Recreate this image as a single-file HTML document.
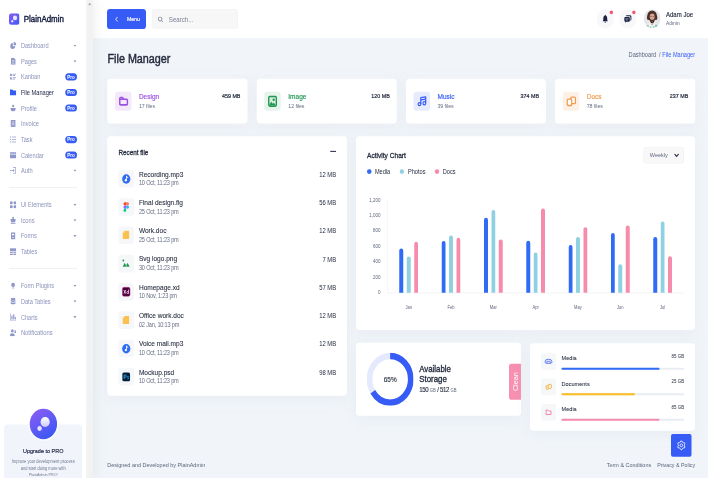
<!DOCTYPE html>
<html><head><meta charset="utf-8"><title>File Manager | PlainAdmin</title>
<style>
html,body{margin:0;padding:0;width:708px;height:478px;overflow:hidden;background:#f1f5f9;}
body{font-family:"Liberation Sans",sans-serif;}
#o{position:absolute;left:0;top:0;width:2832px;height:1912px;transform:scale(.25,0.28250);transform-origin:0 0;overflow:hidden;filter:brightness(1);}
#w{position:absolute;left:0;top:0;width:708px;height:423.51px;zoom:4;overflow:hidden;background:#f1f5f9;}
#w div,#w svg{position:absolute;display:block;}
#w .t{white-space:nowrap;}
#w .t span{position:static;}
</style></head><body>
<div id="o"><div id="w">
<div style="left:93px;top:0px;width:615px;height:33.72px;background:#fff;"></div>
<div style="left:0px;top:0px;width:93px;height:423.01px;background:#fff;box-shadow:0 0 11px rgba(200,208,216,.45);"></div>
<div style="left:86.3px;top:0px;width:6.7px;height:423.01px;background:#f2f2f3;"></div>
<svg style="left:88px;top:2.48px;" width="3.4" height="2.3" viewBox="0 0 10 10" preserveAspectRatio="none"><path d="M0 10 L5 0 L10 10Z" fill="#a3a3a8"/></svg>
<svg style="left:9px;top:11.68px;" width="10.5" height="10.35" viewBox="0 0 20 20" preserveAspectRatio="none"><defs><linearGradient id="lg" x1="0" y1="0" x2="1" y2="1"><stop offset="0" stop-color="#8a5cf6"/><stop offset="1" stop-color="#3d5af5"/></linearGradient></defs><rect width="20" height="20" rx="5" fill="url(#lg)"/><circle cx="11.5" cy="8" r="4" fill="#e9e6ff"/><circle cx="6.3" cy="13.5" r="2" fill="#e9e6ff"/></svg>
<div class="t" style="top:12.31px;font-size:7.95px;line-height:9.54px;color:#1a2142;-webkit-text-stroke:0.38px #1a2142;left:23.7px;">PlainAdmin</div>
<svg style="left:10px;top:37.17px;" width="6.2" height="6.37" viewBox="0 0 12 12" preserveAspectRatio="none"><g fill="#8e96ca"><path d="M5.5 1.5 A5 5 0 1 0 10.5 7 L5.5 7Z"/><path d="M7 0 A5 5 0 0 1 12 5.2 L7 5.2Z"/></g></svg>
<div class="t" style="top:37.41px;font-size:5.65px;line-height:6.78px;color:#8c93ba;left:20.9px;">Dashboard</div>
<svg style="left:73.2px;top:39.47px;" width="3.4" height="1.95" viewBox="0 0 10 6" preserveAspectRatio="none"><path d="M0 0 H10 L5 6Z" fill="#949bc0"/></svg>
<svg style="left:10px;top:50.88px;" width="6.2" height="6.37" viewBox="0 0 12 12" preserveAspectRatio="none"><g fill="#8e96ca"><path d="M2 0 H7.5 L10.5 3 V12 H2Z"/><path d="M4 5H8.5M4 7.2H8.5M4 9.4H8.5" stroke="#fff" stroke-width=".9"/></g></svg>
<div class="t" style="top:51.12px;font-size:5.65px;line-height:6.78px;color:#8c93ba;left:20.9px;">Pages</div>
<svg style="left:73.2px;top:53.19px;" width="3.4" height="1.95" viewBox="0 0 10 6" preserveAspectRatio="none"><path d="M0 0 H10 L5 6Z" fill="#949bc0"/></svg>
<svg style="left:10px;top:64.78px;" width="6.2" height="6.37" viewBox="0 0 12 12" preserveAspectRatio="none"><g fill="#8e96ca"><rect x="0" y="1" width="3.6" height="3.6"/><rect x="0" y="7" width="3.6" height="3.6"/><rect x="5.2" y="1" width="6.8" height="1.3"/><rect x="5.2" y="3.3" width="4.5" height="1.3"/><rect x="5.2" y="7" width="6.8" height="1.3"/><rect x="5.2" y="9.3" width="4.5" height="1.3"/></g></svg>
<div class="t" style="top:65.02px;font-size:5.65px;line-height:6.78px;color:#8c93ba;left:20.9px;">Kanban</div>
<div style="left:65.2px;top:64.87px;width:11.7px;height:6.37px;background:#365cf5;border-radius:4px;"></div>
<div class="t" style="top:65.4px;font-size:4.5px;line-height:5.4px;color:#fff;font-weight:700;left:-28.95px;width:200px;text-align:center;">Pro</div>
<svg style="left:10px;top:78.58px;" width="6.2" height="6.37" viewBox="0 0 12 12" preserveAspectRatio="none"><g fill="#365cf5"><path d="M0 1.5 H4.5 L6 3 H12 V11 H0Z"/></g></svg>
<div class="t" style="top:78.82px;font-size:5.65px;line-height:6.78px;color:#1a2142;left:20.9px;">File Manager</div>
<div style="left:65.2px;top:78.67px;width:11.7px;height:6.37px;background:#365cf5;border-radius:4px;"></div>
<div class="t" style="top:79.2px;font-size:4.5px;line-height:5.4px;color:#fff;font-weight:700;left:-28.95px;width:200px;text-align:center;">Pro</div>
<svg style="left:10px;top:92.39px;" width="6.2" height="6.37" viewBox="0 0 12 12" preserveAspectRatio="none"><g fill="#8e96ca"><circle cx="6" cy="2.4" r="2"/><path d="M1 5.8 H11 Q11 11.8 6 11.8 Q1 11.8 1 5.800Z"/></g></svg>
<div class="t" style="top:92.63px;font-size:5.65px;line-height:6.78px;color:#8c93ba;left:20.9px;">Profile</div>
<div style="left:65.2px;top:92.48px;width:11.7px;height:6.37px;background:#365cf5;border-radius:4px;"></div>
<div class="t" style="top:93.01px;font-size:4.5px;line-height:5.4px;color:#fff;font-weight:700;left:-28.95px;width:200px;text-align:center;">Pro</div>
<svg style="left:10px;top:106.19px;" width="6.2" height="6.37" viewBox="0 0 12 12" preserveAspectRatio="none"><g fill="#8e96ca"><path d="M1.5 0 H10.5 V12 L9 11 L7.5 12 L6 11 L4.5 12 L3 11 L1.5 12Z"/><path d="M3.5 3H8.5M3.5 5.5H8.5M3.5 8H8.5" stroke="#fff" stroke-width="1"/></g></svg>
<div class="t" style="top:106.4px;font-size:5.71px;line-height:6.85px;color:#8c93ba;left:20.9px;">Invoice</div>
<svg style="left:10px;top:120.18px;" width="6.2" height="6.37" viewBox="0 0 12 12" preserveAspectRatio="none"><g fill="#8e96ca"><rect x="0" y="1" width="1.8" height="1.8"/><rect x="0" y="5.1" width="1.8" height="1.8"/><rect x="0" y="9.2" width="1.8" height="1.8"/><rect x="3.6" y="1.3" width="8.4" height="1.2"/><rect x="3.6" y="5.4" width="8.4" height="1.2"/><rect x="3.6" y="9.5" width="8.4" height="1.2"/></g></svg>
<div class="t" style="top:120.42px;font-size:5.65px;line-height:6.78px;color:#8c93ba;left:20.9px;">Task</div>
<div style="left:65.2px;top:120.27px;width:11.7px;height:6.37px;background:#365cf5;border-radius:4px;"></div>
<div class="t" style="top:120.8px;font-size:4.5px;line-height:5.4px;color:#fff;font-weight:700;left:-28.95px;width:200px;text-align:center;">Pro</div>
<svg style="left:10px;top:133.89px;" width="6.2" height="6.37" viewBox="0 0 12 12" preserveAspectRatio="none"><g fill="#8e96ca"><path d="M0 1.5 H12 V4 H0Z"/><path d="M0 5 H12 V12 H0Z"/></g></svg>
<div class="t" style="top:134.13px;font-size:5.65px;line-height:6.78px;color:#8c93ba;left:20.9px;">Calendar</div>
<div style="left:65.2px;top:133.98px;width:11.7px;height:6.37px;background:#365cf5;border-radius:4px;"></div>
<div class="t" style="top:134.51px;font-size:4.5px;line-height:5.4px;color:#fff;font-weight:700;left:-28.95px;width:200px;text-align:center;">Pro</div>
<svg style="left:10px;top:147.79px;" width="6.2" height="6.37" viewBox="0 0 12 12" preserveAspectRatio="none"><g fill="#8e96ca"><path d="M6 0.5 H11.5 V11.5 H6 V10.3 H10.3 V1.7 H6Z"/><path d="M0 5.4 H6 V3.6 L9 6 L6 8.4 V6.6 H0Z"/></g></svg>
<div class="t" style="top:148px;font-size:5.69px;line-height:6.82px;color:#8c93ba;left:20.9px;">Auth</div>
<svg style="left:73.2px;top:150.09px;" width="3.4" height="1.95" viewBox="0 0 10 6" preserveAspectRatio="none"><path d="M0 0 H10 L5 6Z" fill="#949bc0"/></svg>
<svg style="left:10px;top:178.05px;" width="6.2" height="6.37" viewBox="0 0 12 12" preserveAspectRatio="none"><g fill="#8e96ca"><rect x="0" y="0" width="5" height="5" rx="1.2"/><rect x="7" y="0" width="5" height="5" rx="1.2"/><rect x="0" y="7" width="5" height="5" rx="1.2"/><rect x="7" y="7" width="5" height="5" rx="1.2"/></g></svg>
<div class="t" style="top:178.29px;font-size:5.65px;line-height:6.78px;color:#8c93ba;left:20.9px;">UI Elements</div>
<svg style="left:73.2px;top:180.35px;" width="3.4" height="1.95" viewBox="0 0 10 6" preserveAspectRatio="none"><path d="M0 0 H10 L5 6Z" fill="#949bc0"/></svg>
<svg style="left:10px;top:191.77px;" width="6.2" height="6.37" viewBox="0 0 12 12" preserveAspectRatio="none"><g fill="#8e96ca"><path d="M1 4 H11 L10 9.5 H2Z"/><circle cx="6" cy="2" r="1.8"/><rect x="1.5" y="10.3" width="9" height="1.5"/></g></svg>
<div class="t" style="top:191.96px;font-size:5.73px;line-height:6.88px;color:#8c93ba;left:20.9px;">Icons</div>
<svg style="left:73.2px;top:194.07px;" width="3.4" height="1.95" viewBox="0 0 10 6" preserveAspectRatio="none"><path d="M0 0 H10 L5 6Z" fill="#949bc0"/></svg>
<svg style="left:10px;top:205.58px;" width="6.2" height="6.37" viewBox="0 0 12 12" preserveAspectRatio="none"><g fill="#8e96ca"><path d="M2 0 H10 V12 H2Z"/><path d="M4 2.5 H8 V6 L6 4.8 L4 6Z" fill="#fff"/><path d="M4 8.8H8" stroke="#fff" stroke-width="1"/></g></svg>
<div class="t" style="top:205.81px;font-size:5.65px;line-height:6.78px;color:#8c93ba;left:20.9px;">Forms</div>
<svg style="left:73.2px;top:207.88px;" width="3.4" height="1.95" viewBox="0 0 10 6" preserveAspectRatio="none"><path d="M0 0 H10 L5 6Z" fill="#949bc0"/></svg>
<svg style="left:10px;top:219.38px;" width="6.2" height="6.37" viewBox="0 0 12 12" preserveAspectRatio="none"><g fill="#8e96ca"><rect x="0" y="0.5" width="12" height="5"/><rect x="0" y="6.8" width="5.4" height="2"/><rect x="6.6" y="6.8" width="5.4" height="2"/><rect x="0" y="9.8" width="5.4" height="2"/><rect x="6.6" y="9.8" width="5.4" height="2"/></g></svg>
<div class="t" style="top:219.62px;font-size:5.65px;line-height:6.78px;color:#8c93ba;left:20.9px;">Tables</div>
<svg style="left:10px;top:249.73px;" width="6.2" height="6.37" viewBox="0 0 12 12" preserveAspectRatio="none"><g fill="#8e96ca"><circle cx="6" cy="4.5" r="3.6"/><rect x="5.3" y="7" width="1.4" height="5"/></g></svg>
<div class="t" style="top:249.97px;font-size:5.65px;line-height:6.78px;color:#8c93ba;left:20.9px;">Form Plugins</div>
<svg style="left:73.2px;top:252.04px;" width="3.4" height="1.95" viewBox="0 0 10 6" preserveAspectRatio="none"><path d="M0 0 H10 L5 6Z" fill="#949bc0"/></svg>
<svg style="left:10px;top:263.45px;" width="6.2" height="6.37" viewBox="0 0 12 12" preserveAspectRatio="none"><g fill="#8e96ca"><ellipse cx="6" cy="2" rx="4.5" ry="2"/><path d="M1.5 3.4 Q6 6 10.5 3.4 V6 Q6 8.6 1.5 6Z"/><path d="M1.5 7.2 Q6 9.8 10.5 7.2 V10 Q6 12.6 1.5 10Z"/></g></svg>
<div class="t" style="top:263.69px;font-size:5.65px;line-height:6.78px;color:#8c93ba;left:20.9px;">Data Tables</div>
<svg style="left:73.2px;top:265.75px;" width="3.4" height="1.95" viewBox="0 0 10 6" preserveAspectRatio="none"><path d="M0 0 H10 L5 6Z" fill="#949bc0"/></svg>
<svg style="left:10px;top:277.35px;" width="6.2" height="6.37" viewBox="0 0 12 12" preserveAspectRatio="none"><g fill="#8e96ca"><rect x="0" y="0" width="1.1" height="12"/><rect x="0" y="10.9" width="12" height="1.1"/><rect x="2.8" y="4" width="2.2" height="6"/><rect x="6.2" y="1.5" width="2.2" height="8.5"/><rect x="9.4" y="6" width="2" height="4"/></g></svg>
<div class="t" style="top:277.58px;font-size:5.65px;line-height:6.78px;color:#8c93ba;left:20.9px;">Charts</div>
<svg style="left:73.2px;top:279.65px;" width="3.4" height="1.95" viewBox="0 0 10 6" preserveAspectRatio="none"><path d="M0 0 H10 L5 6Z" fill="#949bc0"/></svg>
<svg style="left:10px;top:291.15px;" width="6.2" height="6.37" viewBox="0 0 12 12" preserveAspectRatio="none"><g fill="#8e96ca"><circle cx="4.5" cy="3" r="2.6"/><path d="M0 12 V9.5 Q0 6.8 4.5 6.8 Q9 6.8 9 9.5 V12Z"/><path d="M9 1 Q11.8 1.5 11.5 5 L12 6.5 H8.5Z"/></g></svg>
<div class="t" style="top:291.28px;font-size:5.84px;line-height:7.01px;color:#8c93ba;left:20.9px;">Notifications</div>
<div style="left:9.2px;top:165.66px;width:67.7px;height:0.53px;background:#e4e6ec;"></div>
<div style="left:9.2px;top:237.26px;width:67.7px;height:0.53px;background:#e4e6ec;"></div>
<div style="left:4px;top:375.75px;width:78px;height:53.1px;background:#f1f5fb;border-radius:3.5px;"></div>
<svg style="left:29.4px;top:361.42px;overflow:visible;" width="27.8" height="27.35" viewBox="0 0 40 40" preserveAspectRatio="none"><defs><linearGradient id="pg" x1="0.2" y1="0" x2="0.8" y2="1"><stop offset="0" stop-color="#8b5cf6"/><stop offset="1" stop-color="#3558f4"/></linearGradient><linearGradient id="pw" x1="0" y1="0" x2="0" y2="1"><stop offset="0" stop-color="#fff"/><stop offset="1" stop-color="#c9c8ff"/></linearGradient></defs><circle cx="20" cy="20" r="21.5" fill="#fff"/><circle cx="20" cy="20" r="19.7" fill="url(#pg)"/><circle cx="22.5" cy="17.5" r="6.6" fill="url(#pw)"/><circle cx="14.5" cy="26" r="3.2" fill="#e6e4ff"/></svg>
<div class="t" style="top:396.09px;font-size:5.48px;line-height:6.57px;color:#1a2142;-webkit-text-stroke:0.15px #1a2142;left:-56.8px;width:200px;text-align:center;">Upgrade to PRO</div>
<div class="t" style="top:406.08px;font-size:4.03px;line-height:4.84px;color:#6f7790;left:-56.8px;width:200px;text-align:center;">Improve your development process</div>
<div class="t" style="top:411.8px;font-size:4.01px;line-height:4.81px;color:#6f7790;left:-56.8px;width:200px;text-align:center;">and start doing more with</div>
<div class="t" style="top:417.68px;font-size:3.73px;line-height:4.47px;color:#6f7790;left:-56.8px;width:200px;text-align:center;">PlainAdmin PRO!</div>
<div style="left:107.1px;top:7.96px;width:39px;height:17.7px;background:#365cf5;border-radius:3px;"></div>
<svg style="left:115px;top:14.51px;" width="3.2" height="4.96" viewBox="0 0 6 10" preserveAspectRatio="none"><path d="M5 0.8 L1.2 5 L5 9.2" fill="none" stroke="#fff" stroke-width="1.5"/></svg>
<div class="t" style="top:13.96px;font-size:5.2px;line-height:6.24px;color:#fff;-webkit-text-stroke:0.15px #fff;left:126.9px;">Menu</div>
<div style="left:151.9px;top:7.96px;width:86.1px;height:17.61px;background:#f7f7f8;border-radius:3px;box-shadow:inset 0 0 0 .4px #f1f1f3;"></div>
<svg style="left:157.8px;top:14.42px;" width="5.6" height="5.58" viewBox="0 0 12 12" preserveAspectRatio="none"><circle cx="5" cy="5" r="3.9" fill="none" stroke="#5d657b" stroke-width="1.3"/><path d="M8 8 L11.3 11.3" stroke="#5d657b" stroke-width="1.4"/></svg>
<div class="t" style="top:13.57px;font-size:6.15px;line-height:7.38px;color:#7a8194;left:168.8px;">Search...</div>
<div style="left:596.7px;top:7.88px;width:17.2px;height:17.26px;background:#f8f8fa;border-radius:9px;"></div>
<div style="left:619.2px;top:7.88px;width:17.2px;height:17.26px;background:#f8f8fa;border-radius:9px;"></div>
<svg style="left:602.3px;top:12.83px;" width="6" height="7.61" viewBox="0 0 12 14" preserveAspectRatio="none"><path d="M6 0.5 Q7 0.5 7 1.6 Q10 2.6 10 6.5 V9.5 L11.5 11.3 H0.5 L2 9.5 V6.5 Q2 2.6 5 1.6 Q5 0.5 6 0.5Z M4.4 12 H7.6 Q7.2 13.7 6 13.7 Q4.8 13.7 4.4 12Z" fill="#1a2142"/></svg>
<svg style="left:624px;top:12.92px;" width="7.8" height="7.43" viewBox="0 0 14 14" preserveAspectRatio="none"><path d="M5 0.8 H11 Q13.5 0.8 13.5 3.3 V7.5 Q13.5 9.6 11.6 9.9 V4.8 Q11.6 2.8 9.6 2.8 H3.2 Q3.4 0.8 5 0.8Z" fill="#1a2142"/><path d="M2.6 4 H8.5 Q10.5 4 10.5 6 V9.6 Q10.5 11.6 8.5 11.6 H4.6 L2.2 13.4 V11.5 Q0.6 11.2 0.6 9.6 V6 Q0.6 4 2.6 4Z" fill="#1a2142"/><path d="M3 6.8H8M3 8.8H6.6" stroke="#f6f6f8" stroke-width=".9"/></svg>
<div style="left:609.8px;top:9.2px;width:3.2px;height:3.19px;background:#f5576c;border-radius:2px;"></div>
<div style="left:632.3px;top:9.2px;width:3.2px;height:3.19px;background:#f5576c;border-radius:2px;"></div>
<svg style="left:643.8px;top:8.23px;" width="16.9" height="16.81" viewBox="0 0 34 34" preserveAspectRatio="none"><defs><clipPath id="av"><circle cx="17" cy="17" r="17"/></clipPath></defs><g clip-path="url(#av)"><rect width="34" height="34" fill="#e3e5ea"/><path d="M2 34 Q4 25 12 24 L17 27 L22 24 Q30 25 32 34Z" fill="#eef1f2"/><circle cx="8" cy="30" r="2.2" fill="#8fc7b6"/><circle cx="25" cy="29.5" r="2.4" fill="#7fb9c4"/><circle cx="14" cy="32" r="1.8" fill="#a9cfd8"/><circle cx="20" cy="31.5" r="1.6" fill="#9ad0b0"/><ellipse cx="16.8" cy="11.5" rx="9.6" ry="9.6" fill="#4b3029"/><ellipse cx="9" cy="15" rx="2.6" ry="4" fill="#4b3029"/><ellipse cx="24.8" cy="15" rx="2.6" ry="4" fill="#4b3029"/><ellipse cx="17" cy="13.6" rx="5" ry="6" fill="#d8a58c"/><path d="M11.6 15 Q12 24.5 17 25 Q22 24.5 22.4 15 Q21 19 17 19 Q13 19 11.6 15Z" fill="#43291f"/><path d="M14.6 20.3 Q17 21.6 19.4 20.3 Q17 22.6 14.6 20.3Z" fill="#f1d9cf"/><path d="M12 9.5 Q14 6.5 17 7 Q20 6.500 22 9.5 Q20 4.500 17 4.5 Q14 4.500 12 9.5Z" fill="#4b3029"/><path d="M13 12.8 H16 M18 12.8 H21" stroke="#3a2a28" stroke-width=".9"/><path d="M13.5 24.5 L17 29 L20.5 24.5 Q17 26.5 13.5 24.5Z" fill="#cf9c84"/></g></svg>
<div class="t" style="top:9.31px;font-size:6.02px;line-height:7.22px;color:#262d3f;-webkit-text-stroke:0.12px #262d3f;left:666px;">Adam Joe</div>
<div class="t" style="top:17.56px;font-size:4.8px;line-height:5.76px;color:#5d657b;left:666px;">Admin</div>
<div class="t" style="top:46px;font-size:10.79px;line-height:12.95px;color:#262d3f;-webkit-text-stroke:0.4px #262d3f;left:107.5px;">File Manager</div>
<div class="t" style="top:45.47px;font-size:5.63px;line-height:6.75px;color:#365cf5;right:12.9px;">File Manager</div>
<div class="t" style="top:45.47px;font-size:5.63px;line-height:6.75px;color:#5d657b;left:559.9px;width:200px;text-align:center;">/</div>
<div class="t" style="top:45.47px;font-size:5.63px;line-height:6.75px;color:#5d657b;left:628.6px;">Dashboard</div>
<div style="left:107.3px;top:69.82px;width:140.1px;height:39.38px;background:#fff;border-radius:3.5px;box-shadow:0 3px 12px rgba(218,223,235,.35);"></div>
<div style="left:114.9px;top:81.33px;width:16.5px;height:16.73px;background:#f3e9fb;border-radius:3px;"></div>
<svg style="left:114.9px;top:81.33px;" width="16.5" height="16.73" viewBox="0 0 18 18" preserveAspectRatio="none"><path d="M5.2 6.4 Q5.2 5.6 6 5.6 H8.4 L9.6 7.1 H12.7 Q13.5 7.1 13.5 7.9 V11.7 Q13.5 12.5 12.7 12.5 H6 Q5.2 12.5 5.2 11.7Z" fill="none" stroke="#9b51e0" stroke-width="1.6" stroke-linejoin="round"/><path d="M5.2 7.2 H9.6" stroke="#9b51e0" stroke-width="1"/></svg>
<div class="t" style="top:81.66px;font-size:6.52px;line-height:7.83px;color:#9b51e0;-webkit-text-stroke:0.15px #9b51e0;left:138.9px;">Design</div>
<div class="t" style="top:90.8px;font-size:5.3px;line-height:6.36px;color:#666e84;letter-spacing:-0.08px;left:138.9px;">17 files</div>
<div class="t" style="top:82.01px;font-size:5.35px;line-height:6.42px;color:#262d3f;-webkit-text-stroke:0.2px #262d3f;right:467.6px;">459 MB</div>
<div style="left:256.7px;top:69.82px;width:140.1px;height:39.38px;background:#fff;border-radius:3.5px;box-shadow:0 3px 12px rgba(218,223,235,.35);"></div>
<div style="left:264.3px;top:81.33px;width:16.5px;height:16.73px;background:#e6f4ec;border-radius:3px;"></div>
<svg style="left:264.3px;top:81.33px;" width="16.5" height="16.73" viewBox="0 0 18 18" preserveAspectRatio="none"><rect x="4.9" y="4.4" width="8.3" height="9.2" rx="1.2" fill="#d3ecdc" stroke="#219653" stroke-width="1.5"/><circle cx="10.3" cy="7.6" r="1.2" fill="#219653"/><path d="M5.6 12.6 L7.6 9.4 L9.2 11.4 L10.4 10.4 L12.4 12.6Z" fill="#219653"/></svg>
<div class="t" style="top:81.66px;font-size:6.52px;line-height:7.83px;color:#219653;-webkit-text-stroke:0.15px #219653;left:288.3px;">Image</div>
<div class="t" style="top:90.8px;font-size:5.3px;line-height:6.36px;color:#666e84;letter-spacing:-0.08px;left:288.3px;">12 files</div>
<div class="t" style="top:82.01px;font-size:5.35px;line-height:6.42px;color:#262d3f;-webkit-text-stroke:0.2px #262d3f;right:318.2px;">120 MB</div>
<div style="left:405.9px;top:69.82px;width:140.1px;height:39.38px;background:#fff;border-radius:3.5px;box-shadow:0 3px 12px rgba(218,223,235,.35);"></div>
<div style="left:413.5px;top:81.33px;width:16.5px;height:16.73px;background:#e7ebfe;border-radius:3px;"></div>
<svg style="left:413.5px;top:81.33px;" width="16.5" height="16.73" viewBox="0 0 18 18" preserveAspectRatio="none"><path d="M8 11.6 V5.6 L13.3 4.8 V10.8" fill="none" stroke="#365cf5" stroke-width="1.3" stroke-linejoin="round"/><circle cx="6.5" cy="11.7" r="1.5" fill="none" stroke="#365cf5" stroke-width="1.2"/><circle cx="11.8" cy="10.9" r="1.5" fill="none" stroke="#365cf5" stroke-width="1.2"/><path d="M8 7.7 L13.3 6.9" stroke="#365cf5" stroke-width="1.2"/></svg>
<div class="t" style="top:81.66px;font-size:6.52px;line-height:7.83px;color:#365cf5;-webkit-text-stroke:0.15px #365cf5;left:437.5px;">Music</div>
<div class="t" style="top:90.8px;font-size:5.3px;line-height:6.36px;color:#666e84;letter-spacing:-0.08px;left:437.5px;">39 files</div>
<div class="t" style="top:82.01px;font-size:5.35px;line-height:6.42px;color:#262d3f;-webkit-text-stroke:0.2px #262d3f;right:169px;">374 MB</div>
<div style="left:555.1px;top:69.82px;width:140.1px;height:39.38px;background:#fff;border-radius:3.5px;box-shadow:0 3px 12px rgba(218,223,235,.35);"></div>
<div style="left:562.7px;top:81.33px;width:16.5px;height:16.73px;background:#fdf1e6;border-radius:3px;"></div>
<svg style="left:562.7px;top:81.33px;" width="16.5" height="16.73" viewBox="0 0 18 18" preserveAspectRatio="none"><rect x="8.8" y="5" width="5" height="6.2" rx=".9" fill="#fff" stroke="#f2994a" stroke-width="1.3"/><rect x="4.9" y="7" width="4.9" height="6" rx=".9" fill="#fff" stroke="#f2994a" stroke-width="1.3"/></svg>
<div class="t" style="top:81.66px;font-size:6.52px;line-height:7.83px;color:#f2994a;-webkit-text-stroke:0.15px #f2994a;left:586.7px;">Docs</div>
<div class="t" style="top:90.8px;font-size:5.3px;line-height:6.36px;color:#666e84;letter-spacing:-0.08px;left:586.7px;">78 files</div>
<div class="t" style="top:82.01px;font-size:5.35px;line-height:6.42px;color:#262d3f;-webkit-text-stroke:0.2px #262d3f;right:19.8px;">237 MB</div>
<div style="left:107.3px;top:120.53px;width:239.6px;height:229.65px;background:#fff;border-radius:3.5px;box-shadow:0 3px 12px rgba(218,223,235,.35);"></div>
<div class="t" style="top:130.88px;font-size:6.35px;line-height:7.62px;color:#262d3f;-webkit-text-stroke:0.25px #262d3f;left:118.4px;">Recent file</div>
<div style="left:330.3px;top:133.45px;width:5.8px;height:0.97px;background:#3a4052;"></div>
<div style="left:118.6px;top:150.44px;width:15.5px;height:15.58px;background:#f6f7f9;border-radius:2.5px;"></div>
<svg style="left:118.6px;top:150.44px;" width="15.5" height="15.58" viewBox="0 0 18 18" preserveAspectRatio="none"><circle cx="9" cy="9.1" r="4.8" fill="#2f6bf5"/><path d="M9.3 6.2 V10.2 M9.3 6.4 Q10.6 6.8 10.8 8" stroke="#fff" stroke-width=".9" fill="none"/><circle cx="8.5" cy="10.5" r="1.25" fill="#fff"/></svg>
<div class="t" style="top:150.23px;font-size:6.55px;line-height:7.86px;color:#262d3f;-webkit-text-stroke:0.08px #262d3f;left:138.9px;">Recording.mp3</div>
<div class="t" style="top:158.85px;font-size:5.6px;line-height:6.72px;color:#666e84;letter-spacing:-0.18px;left:138.9px;">10 Oct, 11:23 pm</div>
<div class="t" style="top:150.8px;font-size:5.9px;line-height:7.08px;color:#262d3f;right:371.8px;">12 MB</div>
<div style="left:118.6px;top:175.49px;width:15.5px;height:15.58px;background:#f6f7f9;border-radius:2.5px;"></div>
<svg style="left:118.6px;top:175.49px;" width="15.5" height="15.58" viewBox="0 0 18 18" preserveAspectRatio="none"><path d="M7.4 4 H9 V7.3 H7.4 Q5.8 7.3 5.8 5.65 Q5.8 4 7.4 4Z" fill="#f24e1e"/><path d="M9 4 H10.6 Q12.2 4 12.2 5.65 Q12.2 7.3 10.6 7.3 H9Z" fill="#ff7262"/><path d="M7.4 7.3 H9 V10.6 H7.4 Q5.8 10.6 5.8 8.95 Q5.8 7.3 7.4 7.3Z" fill="#a259ff"/><circle cx="10.6" cy="8.95" r="1.65" fill="#1abcfe"/><path d="M7.4 10.6 H9 V12.3 Q9 13.9 7.4 13.9 Q5.8 13.9 5.8 12.25 Q5.8 10.6 7.4 10.6Z" fill="#0acf83"/></svg>
<div class="t" style="top:175.28px;font-size:6.55px;line-height:7.86px;color:#262d3f;-webkit-text-stroke:0.08px #262d3f;left:138.9px;">Final design.fig</div>
<div class="t" style="top:183.9px;font-size:5.6px;line-height:6.72px;color:#666e84;letter-spacing:-0.18px;left:138.9px;">25 Oct, 11:23 pm</div>
<div class="t" style="top:175.84px;font-size:5.9px;line-height:7.08px;color:#262d3f;right:371.8px;">56 MB</div>
<div style="left:118.6px;top:200.53px;width:15.5px;height:15.58px;background:#f6f7f9;border-radius:2.5px;"></div>
<svg style="left:118.6px;top:200.53px;" width="15.5" height="15.58" viewBox="0 0 18 18" preserveAspectRatio="none"><path d="M6.9 4.4 H11.6 Q12.4 4.4 12.4 5.2 V11.8 Q12.4 12.6 11.6 12.6 H5.7 Q4.9 12.6 4.9 11.8 V6.4Z" fill="#fbc150"/><path d="M4.9 6.4 L6.9 4.4 V5.8 Q6.9 6.4 6.3 6.4Z" fill="#fde6b3"/></svg>
<div class="t" style="top:200.32px;font-size:6.55px;line-height:7.86px;color:#262d3f;-webkit-text-stroke:0.08px #262d3f;left:138.9px;">Work.doc</div>
<div class="t" style="top:208.94px;font-size:5.6px;line-height:6.72px;color:#666e84;letter-spacing:-0.18px;left:138.9px;">25 Oct, 11:23 pm</div>
<div class="t" style="top:200.88px;font-size:5.9px;line-height:7.08px;color:#262d3f;right:371.8px;">12 MB</div>
<div style="left:118.6px;top:225.58px;width:15.5px;height:15.58px;background:#f6f7f9;border-radius:2.5px;"></div>
<svg style="left:118.6px;top:225.58px;" width="15.5" height="15.58" viewBox="0 0 18 18" preserveAspectRatio="none"><circle cx="5.6" cy="5.9" r="1.05" fill="#219653"/><path d="M4.9 12.3 L7.2 8 L9 11 L10.6 8 L12.9 12.3Z" fill="#219653"/><path d="M7.6 12.3 L9 9.3 L10.4 12.3Z" fill="#6fcf97"/></svg>
<div class="t" style="top:225.36px;font-size:6.55px;line-height:7.86px;color:#262d3f;-webkit-text-stroke:0.08px #262d3f;left:138.9px;">Svg logo.png</div>
<div class="t" style="top:233.99px;font-size:5.6px;line-height:6.72px;color:#666e84;letter-spacing:-0.18px;left:138.9px;">30 Oct, 11:23 pm</div>
<div class="t" style="top:225.93px;font-size:5.9px;line-height:7.08px;color:#262d3f;right:371.8px;">7 MB</div>
<div style="left:118.6px;top:250.62px;width:15.5px;height:15.58px;background:#f6f7f9;border-radius:2.5px;"></div>
<svg style="left:118.6px;top:250.62px;" width="15.5" height="15.58" viewBox="0 0 18 18" preserveAspectRatio="none"><rect x="4.5" y="4.4" width="8.9" height="9.1" rx="1.7" fill="#470137" stroke="#c93aa0" stroke-width=".5"/><path d="M6.3 7.1 L8.5 10.9 M8.5 7.1 L6.3 10.9" stroke="#ffd9f7" stroke-width=".85"/><path d="M11.6 6.6 V10.9 M11.6 8.7 Q9.5 8.1 9.6 9.7 Q9.8 11.3 11.6 10.5" stroke="#ffd9f7" stroke-width=".8" fill="none"/></svg>
<div class="t" style="top:250.41px;font-size:6.55px;line-height:7.86px;color:#262d3f;-webkit-text-stroke:0.08px #262d3f;left:138.9px;">Homepage.xd</div>
<div class="t" style="top:259.03px;font-size:5.6px;line-height:6.72px;color:#666e84;letter-spacing:-0.18px;left:138.9px;">10 Nov, 1:23 pm</div>
<div class="t" style="top:250.97px;font-size:5.9px;line-height:7.08px;color:#262d3f;right:371.8px;">57 MB</div>
<div style="left:118.6px;top:275.66px;width:15.5px;height:15.58px;background:#f6f7f9;border-radius:2.5px;"></div>
<svg style="left:118.6px;top:275.66px;" width="15.5" height="15.58" viewBox="0 0 18 18" preserveAspectRatio="none"><path d="M6.9 4.4 H11.6 Q12.4 4.4 12.4 5.2 V11.8 Q12.4 12.6 11.6 12.6 H5.7 Q4.9 12.6 4.9 11.8 V6.4Z" fill="#fbc150"/><path d="M4.9 6.4 L6.9 4.4 V5.8 Q6.9 6.4 6.3 6.4Z" fill="#fde6b3"/></svg>
<div class="t" style="top:275.45px;font-size:6.55px;line-height:7.86px;color:#262d3f;-webkit-text-stroke:0.08px #262d3f;left:138.9px;">Office work.doc</div>
<div class="t" style="top:284.07px;font-size:5.6px;line-height:6.72px;color:#666e84;letter-spacing:-0.18px;left:138.9px;">02 Jan, 10:13 pm</div>
<div class="t" style="top:276.02px;font-size:5.9px;line-height:7.08px;color:#262d3f;right:371.8px;">12 MB</div>
<div style="left:118.6px;top:300.71px;width:15.5px;height:15.58px;background:#f6f7f9;border-radius:2.5px;"></div>
<svg style="left:118.6px;top:300.71px;" width="15.5" height="15.58" viewBox="0 0 18 18" preserveAspectRatio="none"><circle cx="9" cy="9.1" r="4.8" fill="#2f6bf5"/><path d="M9.3 6.2 V10.2 M9.3 6.4 Q10.6 6.8 10.8 8" stroke="#fff" stroke-width=".9" fill="none"/><circle cx="8.5" cy="10.5" r="1.25" fill="#fff"/></svg>
<div class="t" style="top:300.5px;font-size:6.55px;line-height:7.86px;color:#262d3f;-webkit-text-stroke:0.08px #262d3f;left:138.9px;">Voice mail.mp3</div>
<div class="t" style="top:309.12px;font-size:5.6px;line-height:6.72px;color:#666e84;letter-spacing:-0.18px;left:138.9px;">10 Oct, 11:23 pm</div>
<div class="t" style="top:301.06px;font-size:5.9px;line-height:7.08px;color:#262d3f;right:371.8px;">12 MB</div>
<div style="left:118.6px;top:325.75px;width:15.5px;height:15.58px;background:#f6f7f9;border-radius:2.5px;"></div>
<svg style="left:118.6px;top:325.75px;" width="15.5" height="15.58" viewBox="0 0 18 18" preserveAspectRatio="none"><rect x="4.5" y="4.4" width="8.9" height="9.1" rx="1.7" fill="#001e36"/><path d="M6.5 11.2 V7 H7.7 Q9.1 7 9.1 8.2 Q9.1 9.4 7.7 9.4 H6.5" stroke="#31a8ff" stroke-width=".85" fill="none"/><path d="M12 8.7 Q10.2 8.2 10.3 9.1 Q10.4 9.7 11.2 9.9 Q12.1 10.1 11.9 10.7 Q11.6 11.4 10.2 10.9" stroke="#31a8ff" stroke-width=".75" fill="none"/></svg>
<div class="t" style="top:325.54px;font-size:6.55px;line-height:7.86px;color:#262d3f;-webkit-text-stroke:0.08px #262d3f;left:138.9px;">Mockup.psd</div>
<div class="t" style="top:334.16px;font-size:5.6px;line-height:6.72px;color:#666e84;letter-spacing:-0.18px;left:138.9px;">10 Oct, 11:23 pm</div>
<div class="t" style="top:326.11px;font-size:5.9px;line-height:7.08px;color:#262d3f;right:371.8px;">98 MB</div>
<div style="left:356.1px;top:120.53px;width:338.9px;height:171.5px;background:#fff;border-radius:3.5px;box-shadow:0 3px 12px rgba(218,223,235,.35);"></div>
<div class="t" style="top:133.91px;font-size:6.6px;line-height:7.92px;color:#262d3f;-webkit-text-stroke:0.25px #262d3f;left:367px;">Activity Chart</div>
<div style="left:643.2px;top:130px;width:40.8px;height:14.87px;background:#f8f8f9;border-radius:3.5px;box-shadow:inset 0 0 0 .4px #ececf0;"></div>
<div class="t" style="top:134.05px;font-size:5.49px;line-height:6.59px;color:#5d657b;left:649.8px;">Weekly</div>
<svg style="left:673.9px;top:135.75px;" width="5.2" height="3.45" viewBox="0 0 10 7" preserveAspectRatio="none"><path d="M1 1 L5 5.4 L9 1" fill="none" stroke="#1a2142" stroke-width="1.8"/></svg>
<div style="left:367.1px;top:149.65px;width:4.4px;height:4.42px;background:#2f6bf5;border-radius:3px;"></div>
<div class="t" style="top:148.93px;font-size:5.62px;line-height:6.74px;color:#262d3f;left:374.9px;">Media</div>
<div style="left:399.7px;top:149.65px;width:4.4px;height:4.42px;background:#8fd0e3;border-radius:3px;"></div>
<div class="t" style="top:148.93px;font-size:5.62px;line-height:6.74px;color:#262d3f;left:408px;">Photos</div>
<div style="left:434.8px;top:149.65px;width:4.4px;height:4.42px;background:#f78bab;border-radius:3px;"></div>
<div class="t" style="top:148.93px;font-size:5.62px;line-height:6.74px;color:#262d3f;left:442.8px;">Docs</div>
<div class="t" style="top:256.15px;font-size:4.5px;line-height:5.4px;color:#5d657b;right:327.5px;">0</div>
<div class="t" style="top:242.55px;font-size:4.5px;line-height:5.4px;color:#5d657b;right:327.5px;">200</div>
<div class="t" style="top:228.95px;font-size:4.5px;line-height:5.4px;color:#5d657b;right:327.5px;">400</div>
<div class="t" style="top:215.35px;font-size:4.5px;line-height:5.4px;color:#5d657b;right:327.5px;">600</div>
<div class="t" style="top:201.75px;font-size:4.5px;line-height:5.4px;color:#5d657b;right:327.5px;">800</div>
<div class="t" style="top:188.16px;font-size:4.5px;line-height:5.4px;color:#5d657b;right:327.5px;">1,000</div>
<div class="t" style="top:174.56px;font-size:4.5px;line-height:5.4px;color:#5d657b;right:327.5px;">1,200</div>
<div style="left:387.3px;top:176.11px;width:0.5px;height:83.19px;background:#eceef3;"></div>
<div style="left:387.3px;top:259.03px;width:296.7px;height:0.53px;background:#e7e9ef;"></div>
<div style="left:399.35px;top:219.91px;width:3.9px;height:39.12px;background:#2f6bf5;border-radius:2px 2px 0 0;"></div>
<div style="left:406.75px;top:226.9px;width:3.9px;height:32.12px;background:#8fd0e3;border-radius:2px 2px 0 0;"></div>
<div style="left:414.15px;top:213.89px;width:3.9px;height:45.13px;background:#f78bab;border-radius:2px 2px 0 0;"></div>
<div class="t" style="top:269.93px;font-size:4.1px;line-height:4.92px;color:#5d657b;left:308.7px;width:200px;text-align:center;">Jan</div>
<div style="left:441.67px;top:213.19px;width:3.9px;height:45.84px;background:#2f6bf5;border-radius:2px 2px 0 0;"></div>
<div style="left:449.07px;top:208.58px;width:3.9px;height:50.44px;background:#8fd0e3;border-radius:2px 2px 0 0;"></div>
<div style="left:456.47px;top:210.53px;width:3.9px;height:48.5px;background:#f78bab;border-radius:2px 2px 0 0;"></div>
<div class="t" style="top:269.93px;font-size:4.1px;line-height:4.92px;color:#5d657b;left:351.02px;width:200px;text-align:center;">Feb</div>
<div style="left:483.99px;top:192.74px;width:3.9px;height:66.28px;background:#2f6bf5;border-radius:2px 2px 0 0;"></div>
<div style="left:491.39px;top:185.75px;width:3.9px;height:73.27px;background:#8fd0e3;border-radius:2px 2px 0 0;"></div>
<div style="left:498.79px;top:211.95px;width:3.9px;height:47.08px;background:#f78bab;border-radius:2px 2px 0 0;"></div>
<div class="t" style="top:269.93px;font-size:4.1px;line-height:4.92px;color:#5d657b;left:393.34px;width:200px;text-align:center;">Mar</div>
<div style="left:526.31px;top:213.1px;width:3.9px;height:45.93px;background:#2f6bf5;border-radius:2px 2px 0 0;"></div>
<div style="left:533.71px;top:223.45px;width:3.9px;height:35.58px;background:#8fd0e3;border-radius:2px 2px 0 0;"></div>
<div style="left:541.11px;top:184.51px;width:3.9px;height:74.51px;background:#f78bab;border-radius:2px 2px 0 0;"></div>
<div class="t" style="top:269.93px;font-size:4.1px;line-height:4.92px;color:#5d657b;left:435.66px;width:200px;text-align:center;">Apr</div>
<div style="left:568.63px;top:216.73px;width:3.9px;height:42.3px;background:#2f6bf5;border-radius:2px 2px 0 0;"></div>
<div style="left:576.03px;top:209.73px;width:3.9px;height:49.29px;background:#8fd0e3;border-radius:2px 2px 0 0;"></div>
<div style="left:583.43px;top:201.06px;width:3.9px;height:57.96px;background:#f78bab;border-radius:2px 2px 0 0;"></div>
<div class="t" style="top:269.93px;font-size:4.1px;line-height:4.92px;color:#5d657b;left:477.98px;width:200px;text-align:center;">May</div>
<div style="left:610.95px;top:206.19px;width:3.9px;height:52.83px;background:#2f6bf5;border-radius:2px 2px 0 0;"></div>
<div style="left:618.35px;top:233.63px;width:3.9px;height:25.4px;background:#8fd0e3;border-radius:2px 2px 0 0;"></div>
<div style="left:625.75px;top:199.38px;width:3.9px;height:59.65px;background:#f78bab;border-radius:2px 2px 0 0;"></div>
<div class="t" style="top:269.93px;font-size:4.1px;line-height:4.92px;color:#5d657b;left:520.3px;width:200px;text-align:center;">Jun</div>
<div style="left:653.27px;top:209.73px;width:3.9px;height:49.29px;background:#2f6bf5;border-radius:2px 2px 0 0;"></div>
<div style="left:660.67px;top:196.02px;width:3.9px;height:63.01px;background:#8fd0e3;border-radius:2px 2px 0 0;"></div>
<div style="left:668.07px;top:226.64px;width:3.9px;height:32.39px;background:#f78bab;border-radius:2px 2px 0 0;"></div>
<div class="t" style="top:269.93px;font-size:4.1px;line-height:4.92px;color:#5d657b;left:562.62px;width:200px;text-align:center;">Jul</div>
<div style="left:356.1px;top:303.27px;width:164.8px;height:64.78px;background:#fff;border-radius:3.5px;box-shadow:0 3px 12px rgba(218,223,235,.35);overflow:hidden;"></div>
<svg style="left:366.8px;top:312.21px;" width="46.8" height="46.81" viewBox="0 0 46.8 46.8" preserveAspectRatio="none"><circle cx="23.4" cy="23.4" r="20.6" fill="none" stroke="#e4e9fd" stroke-width="5.6"/><circle cx="23.4" cy="23.4" r="20.6" fill="none" stroke="#365cf5" stroke-width="5.6" stroke-dasharray="84.78 129.43" transform="rotate(-90 23.4 23.4)"/></svg>
<div class="t" style="top:332.12px;font-size:6.5px;line-height:7.79px;color:#262d3f;-webkit-text-stroke:0.12px #262d3f;left:290.2px;width:200px;text-align:center;">65%</div>
<div class="t" style="top:321.91px;font-size:7.87px;line-height:9.44px;color:#262d3f;-webkit-text-stroke:0.3px #262d3f;left:419.2px;">Available</div>
<div class="t" style="top:331.03px;font-size:7.87px;line-height:9.44px;color:#262d3f;-webkit-text-stroke:0.3px #262d3f;left:419.2px;">Storage</div>
<div class="t" style="left:419.2px;top:341.81px;font-size:6.1px;line-height:7px;letter-spacing:-.32px;-webkit-text-stroke:.1px #262d3f;color:#262d3f">150 <span style="font-size:4.2px;letter-spacing:-.05px;-webkit-text-stroke:0;color:#5d657b">GB</span> / 512 <span style="font-size:4.2px;letter-spacing:-.05px;-webkit-text-stroke:0;color:#5d657b">GB</span></div>
<div style="left:509.1px;top:322.12px;width:12px;height:31.68px;background:#f78fb0;border-radius:2.5px 0 0 2.5px;"></div>
<div class="t" style="left:495.6px;top:333.79px;width:40px;height:8px;line-height:8px;font-size:6.4px;color:#fff;text-align:center;transform:rotate(-90deg);transform-origin:50% 50%;">Clean</div>
<div style="left:529.9px;top:303.63px;width:165.2px;height:77.61px;background:#fff;border-radius:3.5px;box-shadow:0 3px 12px rgba(218,223,235,.35);"></div>
<div style="left:541px;top:312.39px;width:15px;height:14.78px;background:#f6f7f9;border-radius:2.5px;"></div>
<svg style="left:541px;top:312.39px;" width="15" height="14.78" viewBox="0 0 18 18" preserveAspectRatio="none"><g transform="translate(9 9) scale(.8) translate(-9 -9)"><path d="M5.5 11.5 Q3.8 11.2 3.8 9.3 Q3.8 6 9 6 Q14.2 6 14.2 9.3 Q14.2 11.2 12.5 11.5Z" fill="none" stroke="#365cf5" stroke-width="1.1"/><path d="M6.5 11 V8.8 H11.5 V11" fill="none" stroke="#365cf5" stroke-width="1"/></g></svg>
<div class="t" style="top:313.93px;font-size:5.55px;line-height:6.66px;color:#262d3f;-webkit-text-stroke:0.05px #262d3f;left:561.6px;">Media</div>
<div class="t" style="top:312.64px;font-size:4.44px;line-height:5.33px;color:#262d3f;right:23.9px;">85 GB</div>
<div style="left:561.6px;top:325.58px;width:122.5px;height:1.68px;background:#e9edf3;border-radius:1px;"></div>
<div style="left:561.6px;top:325.58px;width:98px;height:1.68px;background:#2f6bf5;border-radius:1px;"></div>
<div style="left:541px;top:334.91px;width:15px;height:14.78px;background:#f6f7f9;border-radius:2.5px;"></div>
<svg style="left:541px;top:334.91px;" width="15" height="14.78" viewBox="0 0 18 18" preserveAspectRatio="none"><g transform="translate(9 9) scale(.8) translate(-9 -9)"><rect x="8.6" y="5.6" width="4.6" height="5.4" rx=".8" fill="none" stroke="#f5a623" stroke-width="1.1"/><path d="M8.6 7.2 L5 8 L6 12.4 L10 11.4" fill="none" stroke="#f5a623" stroke-width="1.1" stroke-linejoin="round"/></g></svg>
<div class="t" style="top:336.45px;font-size:5.55px;line-height:6.66px;color:#262d3f;-webkit-text-stroke:0.05px #262d3f;left:561.6px;">Documents</div>
<div class="t" style="top:335.17px;font-size:4.44px;line-height:5.33px;color:#262d3f;right:23.9px;">25 GB</div>
<div style="left:561.6px;top:348.1px;width:122.5px;height:1.68px;background:#e9edf3;border-radius:1px;"></div>
<div style="left:561.6px;top:348.1px;width:73.5px;height:1.68px;background:#fbbc1d;border-radius:1px;"></div>
<div style="left:541px;top:357.43px;width:15px;height:14.78px;background:#f6f7f9;border-radius:2.5px;"></div>
<svg style="left:541px;top:357.43px;" width="15" height="14.78" viewBox="0 0 18 18" preserveAspectRatio="none"><g transform="translate(9 9) scale(.8) translate(-9 -9)"><path d="M5.3 6 H8 L9 7.2 H12.7 V12 H5.3Z" fill="none" stroke="#f2689a" stroke-width="1.1" stroke-linejoin="round"/></g></svg>
<div class="t" style="top:358.97px;font-size:5.55px;line-height:6.66px;color:#262d3f;-webkit-text-stroke:0.05px #262d3f;left:561.6px;">Media</div>
<div class="t" style="top:357.69px;font-size:4.44px;line-height:5.33px;color:#262d3f;right:23.9px;">85 GB</div>
<div style="left:561.6px;top:370.62px;width:122.5px;height:1.68px;background:#e9edf3;border-radius:1px;"></div>
<div style="left:561.6px;top:370.62px;width:98px;height:1.68px;background:#f78bab;border-radius:1px;"></div>
<div style="left:670.9px;top:383.89px;width:20.7px;height:20.44px;background:#365cf5;border-radius:1.8px;"></div>
<svg style="left:676.7px;top:389.56px;overflow:visible;" width="9.2" height="9.2" viewBox="0 0 18 18" preserveAspectRatio="none"><path d="M8.01 1.47 L9.99 1.47 L11.26 3.55 L12.59 4.32 L15.03 4.37 L16.02 6.09 L14.85 8.23 L14.85 9.77 L16.02 11.91 L15.03 13.63 L12.59 13.68 L11.26 14.45 L9.99 16.53 L8.01 16.53 L6.74 14.45 L5.41 13.68 L2.97 13.63 L1.98 11.91 L3.15 9.77 L3.15 8.23 L1.98 6.09 L2.97 4.37 L5.41 4.32 L6.74 3.55Z" fill="none" stroke="#fff" stroke-width="1.5" stroke-linejoin="round"/><circle cx="9" cy="9" r="2.5" fill="none" stroke="#fff" stroke-width="1.4"/></svg>
<div class="t" style="top:408.22px;font-size:5.47px;line-height:6.57px;color:#5d657b;left:107.3px;">Designed and Developed by PlainAdmin</div>
<div class="t" style="top:408.25px;font-size:5.42px;line-height:6.51px;color:#5d657b;right:56.9px;">Term &amp; Conditions</div>
<div class="t" style="top:408.32px;font-size:5.3px;line-height:6.36px;color:#5d657b;right:12.9px;">Privacy &amp; Policy</div>
</div></div>
</body></html>
